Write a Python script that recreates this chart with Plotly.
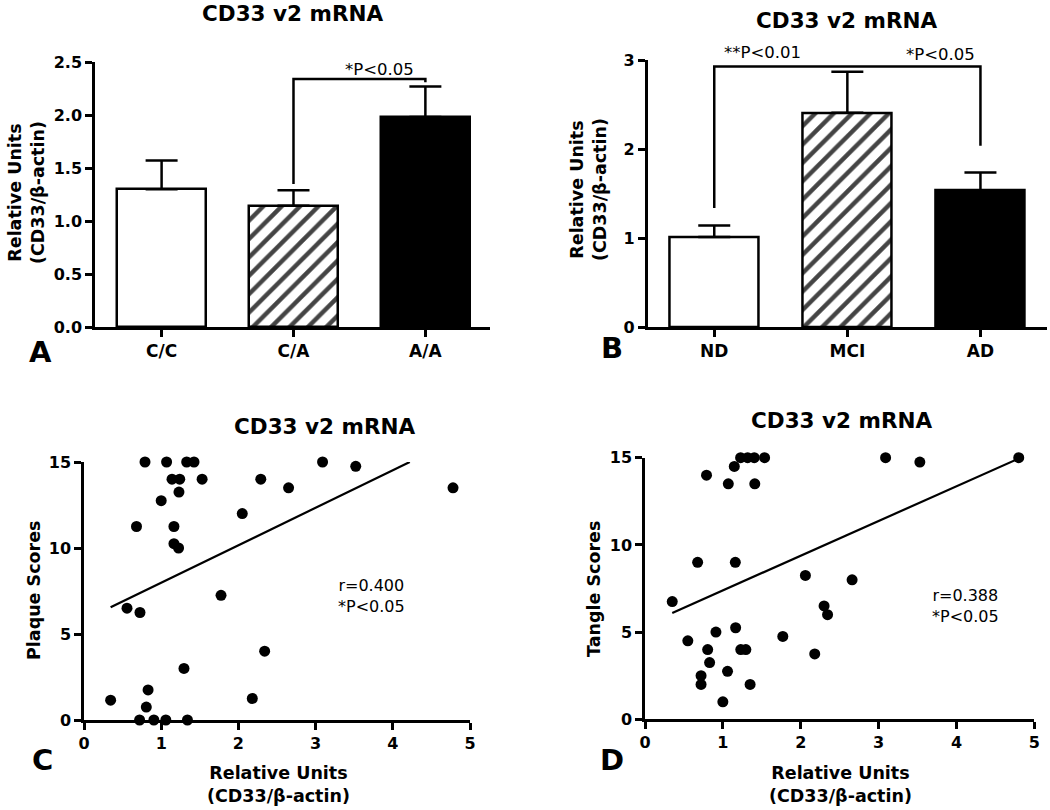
import plotly.graph_objects as go

W, H = 1050, 810
FONT = "DejaVu Sans"

# ---------------- data ----------------
# Panel A: CD33 v2 mRNA by genotype
geno_cats = ["C/C", "C/A", "A/A"]
geno_mean = [1.30, 1.145, 1.98]
geno_sem = [0.27, 0.145, 0.29]
geno_p_text = "*P<0.05"
geno_bracket = {"from": 1, "to": 2, "start": 1.35, "height": 2.34, "end": 2.31}

# Panel B: CD33 v2 mRNA by diagnosis
dx_cats = ["ND", "MCI", "AD"]
dx_mean = [1.015, 2.41, 1.54]
dx_sem = [0.13, 0.46, 0.20]
dx_bracket = {"from": 0, "to": 2, "start": 1.34, "height": 2.93, "end": 2.04}
dx_p_text_left = "**P<0.01"
dx_p_text_right = "*P<0.05"

# Panel C: plaque scores vs relative units
plaque_x = [0.79, 1.07, 1.33, 1.425, 3.09, 3.52, 1.14, 1.24, 1.53, 2.29, 2.65, 4.78,
            1.23, 1.00, 2.05, 0.68, 1.165, 1.165, 1.225, 1.775, 0.557, 0.725, 2.34,
            1.295, 0.83, 0.345, 2.18, 0.807, 0.72, 0.905, 1.06, 1.34]
plaque_y = [15, 15, 15, 15, 15, 14.75, 14, 14, 14, 14, 13.5, 13.5,
            13.25, 12.75, 12, 11.25, 11.25, 10.25, 10, 7.25, 6.5, 6.25, 4,
            3, 1.75, 1.15, 1.25, 0.75, 0, 0, 0, 0]
plaque_fit_x = [0.345, 4.22]
plaque_fit_y = [6.55, 15.0]
plaque_stats = "r=0.400<br>*P<0.05"

# Panel D: tangle scores vs relative units
tangle_x = [1.228, 1.318, 1.403, 1.536, 3.09, 3.53, 4.80, 1.147, 0.79, 1.07, 1.41,
            0.676, 1.16, 2.06, 2.66, 0.35, 2.30, 2.345, 1.164, 0.911, 1.77, 0.55,
            0.805, 1.23, 1.295, 2.18, 0.83, 1.06, 0.72, 0.72, 1.35, 1.00]
tangle_y = [15, 15, 15, 15, 15, 14.75, 15, 14.5, 14, 13.5, 13.5,
            9, 9, 8.25, 8, 6.75, 6.5, 6, 5.25, 5, 4.75, 4.5,
            4, 4, 4, 3.75, 3.25, 2.75, 2.5, 2, 2, 1]
tangle_fit_x = [0.35, 4.8]
tangle_fit_y = [6.1, 14.95]
tangle_stats = "r=0.388<br>*P<0.05"

panel_title = "CD33 v2 mRNA"
units_title = "Relative Units<br>(CD33/β-actin)"

# ---------------- helpers ----------------
def px(x):
    return x / W

def py(y):
    return 1 - y / H

fig = go.Figure()

bar_colors = ["white", "white", "black"]
bar_shapes = ["", "/", ""]

for cats, mean, sem, xa, ya in [(geno_cats, geno_mean, geno_sem, "x", "y"),
                                (dx_cats, dx_mean, dx_sem, "x2", "y2")]:
    fig.add_trace(go.Bar(
        x=list(range(len(cats))), y=mean, width=0.67,
        marker=dict(color=bar_colors, line=dict(color="black", width=2.5),
                    pattern=dict(shape=bar_shapes, fgcolor="black", fgopacity=1,
                                 fillmode="overlay", size=13, solidity=0.34)),
        error_y=dict(type="data", symmetric=False, array=sem,
                     arrayminus=[0] * len(sem), color="black", thickness=2.5, width=16),
        xaxis=xa, yaxis=ya, showlegend=False))

for xs, ys, fx, fy, xa, ya in [(plaque_x, plaque_y, plaque_fit_x, plaque_fit_y, "x3", "y3"),
                               (tangle_x, tangle_y, tangle_fit_x, tangle_fit_y, "x4", "y4")]:
    fig.add_trace(go.Scatter(x=xs, y=ys, mode="markers",
                             marker=dict(color="black", size=11, line=dict(width=0)),
                             cliponaxis=False,
                             xaxis=xa, yaxis=ya, showlegend=False))
    fig.add_trace(go.Scatter(x=fx, y=fy, mode="lines",
                             line=dict(color="black", width=2.2),
                             xaxis=xa, yaxis=ya, showlegend=False))

axis_common = dict(showline=True, linecolor="black", linewidth=2.5, ticks="outside",
                   ticklen=7, tickwidth=2.5, tickcolor="black", showgrid=False,
                   zeroline=False, fixedrange=True, automargin=False,
                   tickfont=dict(family=FONT, size=16, color="black", weight="bold"))

cat_font = dict(family=FONT, size=17, color="black", weight="bold")

fig.update_layout(
    width=W, height=H, margin=dict(l=0, r=0, t=0, b=0, pad=0), autosize=False,
    paper_bgcolor="white", plot_bgcolor="white",
    font=dict(family=FONT, color="black"),
    bargap=0,
    xaxis=dict(domain=[px(95), px(490)], range=[-0.505, 2.49], anchor="y",
               tickvals=list(range(len(geno_cats))), ticktext=geno_cats,
               **{**axis_common, "tickfont": cat_font}),
    yaxis=dict(domain=[py(327), py(62)], range=[0, 2.5], dtick=0.5, tickformat=".1f",
               anchor="x", **axis_common),
    xaxis2=dict(domain=[px(647.7), px(1047)], range=[-0.5, 2.5], anchor="y2",
                tickvals=list(range(len(dx_cats))), ticktext=dx_cats,
                **{**axis_common, "tickfont": cat_font}),
    yaxis2=dict(domain=[py(327.3), py(60.3)], range=[0, 3], dtick=1, anchor="x2",
                **axis_common),
    xaxis3=dict(domain=[px(84), px(470)], range=[0, 5], dtick=1, anchor="y3",
                **axis_common),
    yaxis3=dict(domain=[py(720), py(462)], range=[0, 15], dtick=5, anchor="x3",
                **axis_common),
    xaxis4=dict(domain=[px(645), px(1034.3)], range=[0, 5], dtick=1, anchor="y4",
                **axis_common),
    yaxis4=dict(domain=[py(719.3), py(457.7)], range=[0, 15], dtick=5, anchor="x4",
                **axis_common),
)

# significance brackets (data coordinates)
def bracket(b, xref, yref):
    path = (f"M {b['from']},{b['start']} L {b['from']},{b['height']} "
            f"L {b['to']},{b['height']} L {b['to']},{b['end']}")
    fig.add_shape(type="path", path=path, xref=xref, yref=yref,
                  line=dict(color="black", width=2.5))

bracket(geno_bracket, "x", "y")
bracket(dx_bracket, "x2", "y2")

ann = []
def text(x, y, t, size, bold=False, angle=0, xref="paper", yref="paper"):
    ann.append(dict(x=x, y=y, xref=xref, yref=yref, text=t, showarrow=False,
                    xanchor="center", yanchor="middle", textangle=angle,
                    font=dict(family=FONT, size=size, color="black",
                              weight="bold" if bold else "normal")))

# titles
text(px(292), py(14), panel_title, 21.5, True)
text(px(846), py(20), panel_title, 21.5, True)
text(px(324), py(426), panel_title, 21.5, True)
text(px(841), py(420), panel_title, 21.5, True)

# y-axis titles
text(px(26), py(193), units_title, 17.5, True, -90)
text(px(589), py(190), units_title, 17.5, True, -90)
text(px(34), py(590), "Plaque Scores", 17.5, True, -90)
text(px(594), py(589), "Tangle Scores", 17.5, True, -90)

# x-axis titles for scatter panels
text(px(278), py(784), units_title, 17.5, True)
text(px(840), py(784), units_title, 17.5, True)

# panel letters
text(px(40), py(352), "A", 29, True)
text(px(612), py(348), "B", 29, True)
text(px(42), py(760), "C", 29, True)
text(px(612), py(760), "D", 29, True)

# p-values on bar panels
text(1.654, 2.43, geno_p_text, 16.5, xref="x", yref="y")
text(px(762), py(52), dx_p_text_left, 16.5)
text(px(940), py(55), dx_p_text_right, 16.5)

# correlation stats
text(3.72, 7.2, plaque_stats, 16, xref="x3", yref="y3")
text(4.11, 6.47, tangle_stats, 16, xref="x4", yref="y4")

fig.update_layout(annotations=ann)

fig.write_html("out.html", config={"displayModeBar": False},
               post_script="document.body.style.margin='0';document.body.style.padding='0';")
